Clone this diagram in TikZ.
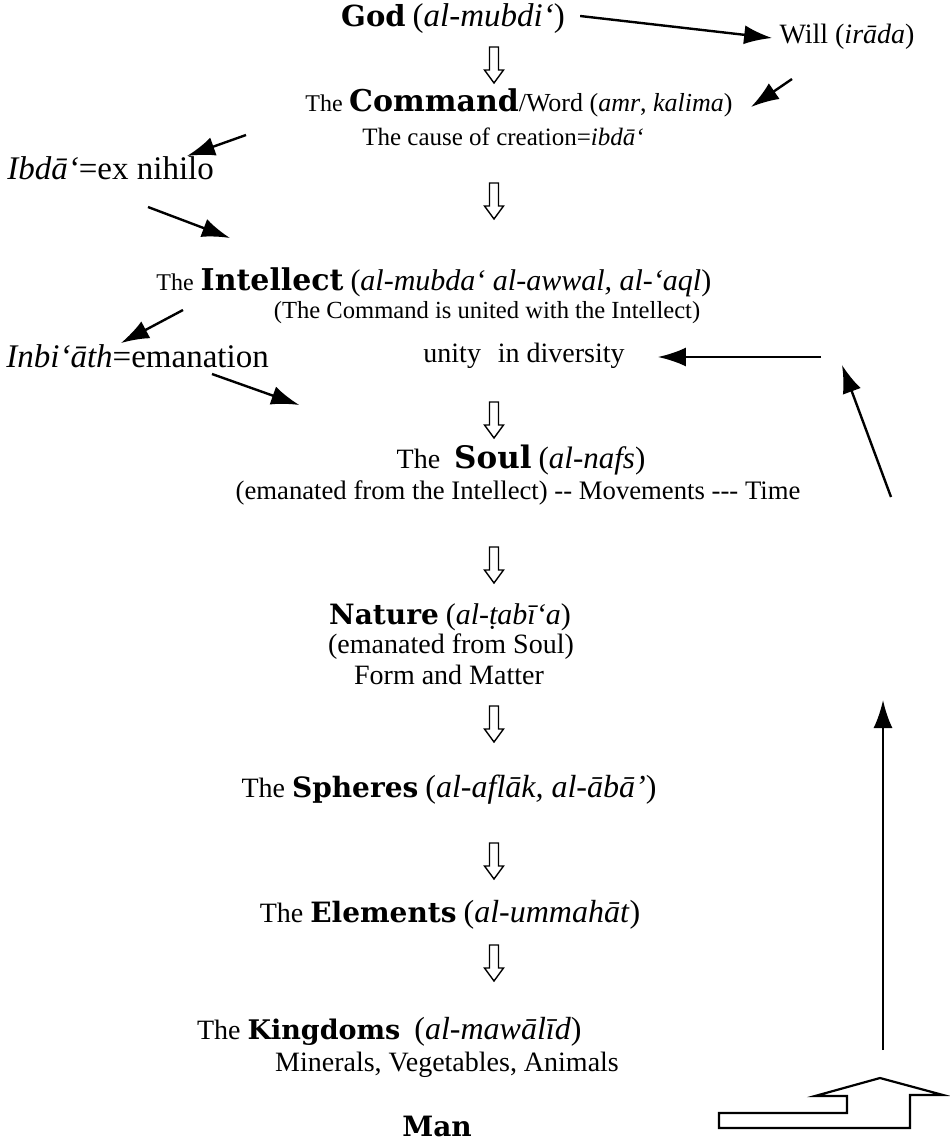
\documentclass[tikz,border=0pt]{standalone}
\usepackage{fontspec}
\setmainfont{Liberation Serif}
\newfontfamily\keyfont{DejaVu Serif}
\usetikzlibrary{arrows.meta, calc}
\newcommand\keyword[2][14]{{\keyfont\bfseries\fontsize{#1}{#1}\selectfont #2}}
\newcommand\translit[2][16]{{\fontsize{#1}{#1}\selectfont (\textit{#2})}}

\begin{document}
\begin{tikzpicture}[x=0.5pt, y=-0.5pt,
    level/.style = {inner sep=0pt, font=\fontsize{14}{17}\selectfont},
    small/.style = {inner sep=0pt, font=\fontsize{12.5}{15}\selectfont},
    gloss/.style = {inner sep=0pt, font=\fontsize{16.5}{19}\selectfont},
    link/.style = {-{Latex[length=14pt, width=9.5pt]}, line width=1.2pt},
    sink/.pic = {\draw [line width=0.7pt] (-4.5, 0) -- (-4.5, 23) -- (-9.5, 23) -- (0, 36)
                       -- (9.5, 23) -- (4.5, 23) -- (4.5, 0) -- cycle;}]
  \useasboundingbox (0, 0) rectangle (949, 1140);

  % Levels.
  \node at (453, 19) [level, name=God] {\keyword[14.5]{God} \translit[16.5]{al-mubdi‘}};
  \node at (847, 37) [level, name=Will] {Will (\textit{irāda})};
  \node at (519, 103) [small, font=\fontsize{13}{15}\selectfont, name=Command] {{\fontsize{12}{14}\selectfont The} \keyword[15]{Command}/Word (\textit{amr}, \textit{kalima})};
  \node at (503, 137) [small, name=Cause] {The cause of creation=\textit{ibdā‘}};
  \node at (7, 168) [gloss, anchor=west, name=Ibda] {\textit{Ibdā‘}=ex nihilo};
  \node at (156, 282) [level, anchor=west, name=Intellect] {{\fontsize{12}{14}\selectfont The} \keyword[15]{Intellect} \translit[15]{al-mubda‘ al-awwal, al-‘aql}};
  \node at (487, 313) [small, font=\fontsize{12.3}{14}\selectfont, name=United] {(The Command is united with the Intellect)};
  \node at (6, 356) [gloss, anchor=west, name=Inbiath] {\textit{Inbi‘āth}=emanation};
  \node at (524, 356) [level, name=Unity] {unity\hspace{0.6em}in diversity};
  \node at (521, 460) [level, name=Soul] {The\ \ \keyword[15.5]{Soul} \translit[15.5]{al-nafs}};
  \node at (518, 493) [level, font=\fontsize{13.35}{16}\selectfont, name=SoulNote] {(emanated from the Intellect) -{}- Movements -{}-{}- Time};
  \node at (450, 617) [level, name=Nature] {\keyword{Nature} \translit[15]{al-\d{t}abī‘a}};
  \node at (451, 647) [level, name=NatureNote] {(emanated from Soul)};
  \node at (449, 675) [level, name=FormMatter] {Form and Matter};
  \node at (449, 790) [level, name=Spheres] {The \keyword{Spheres} \translit{al-aflāk, al-ābā’}};
  \node at (450, 915) [level, name=Elements] {The \keyword{Elements} \translit{al-ummahāt}};
  \node at (582, 1032) [level, anchor=east, name=Kingdoms] {The \keyword[13.5]{Kingdoms}\ \ \translit{al-mawālīd}};
  \node at (447, 1065) [level, name=Minerals] {Minerals, Vegetables, Animals};
  \node at (437, 1126) [level, name=Man] {\keyword{Man}};

  % Descent between the levels.
  \foreach \y in {47, 183, 402, 547, 706, 843, 945}
    \pic at (494, \y) {sink};

  % Side arrows.
  \draw [link] ($(God.east)+(15, -3)$)
             to ($(Will.west)+(-7, 1)$);
  \draw [link] ($(Will.center)+(-55, 42)$)
             to ($(Command.east)+(18, 4)$);
  \draw [link] ($(Command.west)+(-59, 32)$)
             to ($(Ibda.west)+(180, -12)$);
  \draw [link] ($(Ibda.west)+(141, 39)$)
             to ($(Intellect.west)+(74, -44)$);
  \draw [link] ($(Intellect.west)+(27, 28)$)
             to ($(Inbiath.west)+(115, -13)$);
  \draw [link] ($(Inbiath.west)+(206, 18)$)
             to ($(Soul.west)+(-97, -55)$);

  % Return from Man.
  \coordinate (Rise) at (883, 1050);
  \coordinate (RiseTop) at (883, 700);
  \coordinate (Slant) at (891, 497);
  \coordinate (SlantTop) at (842, 365);
  \coordinate (Back) at (821, 357);
  \draw [line width=1.1pt] (719, 1113) -- (847, 1113) -- (847, 1096) -- (815, 1096)
        -- (880, 1078) -- (943, 1095) -- (910, 1095) -- (910, 1128) -- (719, 1128) -- cycle;
  \draw [link] (Rise)
             to (RiseTop);
  \draw [link] (Slant)
             to (SlantTop);
  \draw [link] (Back)
             to ($(Unity.east)+(33, 1)$);
\end{tikzpicture}
\end{document}
